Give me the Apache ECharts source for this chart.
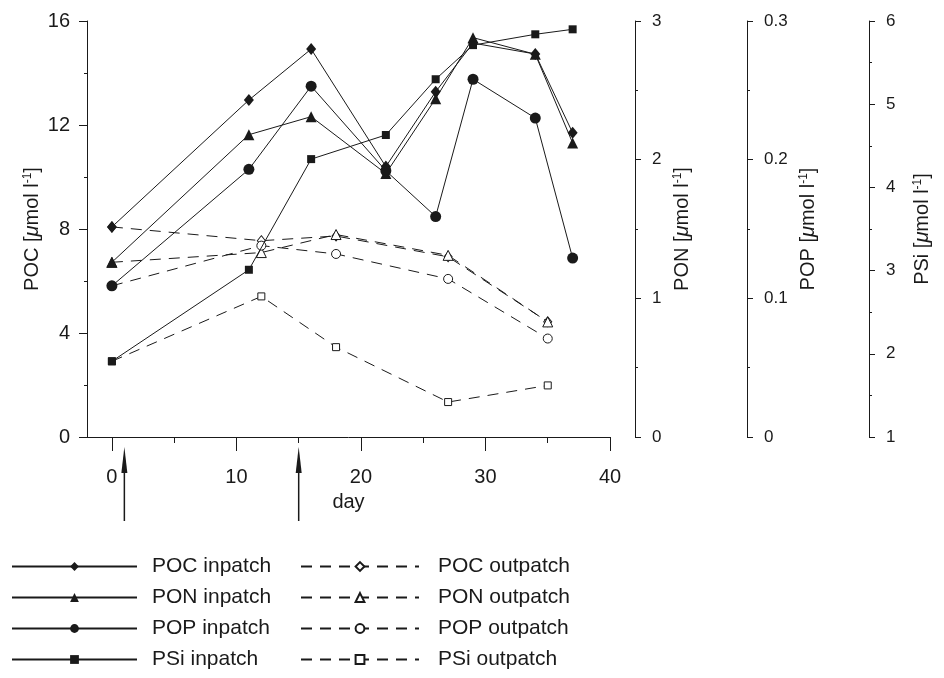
<!DOCTYPE html>
<html>
<head>
<meta charset="utf-8">
<script src="https://cdn.jsdelivr.net/npm/echarts@6/dist/echarts.min.js"></script>
<style>html,body{margin:0;padding:0;background:#fff}#c{width:944px;height:678px}</style>
</head>
<body>
<div id="c"></div>
<script>
// ---- data ----
const daysIn  = [0, 11, 16, 22, 26, 29, 34, 37];
const daysOut = [0, 12, 18, 27, 35];
const POC_in  = [8.08, 12.96, 14.92, 10.4, 13.28, 15.15, 14.73, 11.7];
const PON_in  = [1.26, 2.18, 2.31, 1.90, 2.44, 2.88, 2.76, 2.12];
const POP_in  = [0.109, 0.193, 0.253, 0.192, 0.159, 0.258, 0.230, 0.129];
const PSi_in  = [1.91, 3.01, 4.34, 4.63, 5.30, 5.71, 5.84, 5.90];
const POC_out = [8.08, 7.55, 7.73, 6.93, 4.43];
const PON_out = [1.26, 1.33, 1.46, 1.31, 0.83];
const POP_out = [0.109, 0.138, 0.132, 0.114, 0.071];
const PSi_out = [1.91, 2.69, 2.08, 1.42, 1.62];
const xMajorTicks = [0, 10, 20, 30, 40];
const xMinorTicks = [5, 15, 25, 35];
const arrowDays = [1, 15];
const inNames  = ['POC inpatch', 'PON inpatch', 'POP inpatch', 'PSi inpatch'];
const outNames = ['POC outpatch', 'PON outpatch', 'POP outpatch', 'PSi outpatch'];

const FONT = 'Liberation Sans';
const INK = '#1a1a1a';
const pair = (xs, ys) => xs.map((x, i) => [x, ys[i]]);

function nameRich(prefix) {
  return '{a|' + prefix + ' [}{i|μ}{a|mol l}{s|-1}{a|]}';
}
const richName = {
  a: {fontSize: 20, fontFamily: FONT, color: INK},
  i: {fontSize: 20, fontFamily: FONT, color: INK, fontStyle: 'italic'},
  s: {fontSize: 12, fontFamily: FONT, color: INK, verticalAlign: 'top', lineHeight: 20}
};

function yAx(opts) {
  return Object.assign({
    type: 'value',
    nameLocation: 'middle',
    nameRotate: 90,
    nameMoveOverlap: false,
    nameTextStyle: {rich: richName},
    splitLine: {show: false},
    axisLine: {show: true, onZero: false, lineStyle: {color: INK, width: 1}},
    axisTick: {show: true, length: 6, lineStyle: {color: INK}},
    minorTick: {show: true, splitNumber: 2, length: 3, lineStyle: {color: INK}},
    axisLabel: {color: INK, fontFamily: FONT, fontSize: 17, margin: 17}
  }, opts);
}

const inSym = ['diamond', 'triangle', 'circle', 'rect'];
const inSize = [[10, 12], 11, 11, 8];
const outSize = [[8, 10], 10, 9, 7];
const inData = [POC_in, PON_in, POP_in, PSi_in];
const outData = [POC_out, PON_out, POP_out, PSi_out];

const series = [];
for (let k = 0; k < 4; k++) {
  series.push({
    name: inNames[k], type: 'line', yAxisIndex: k,
    data: pair(daysIn, inData[k]),
    symbol: inSym[k], symbolSize: inSize[k],
    itemStyle: {color: INK},
    lineStyle: {color: INK, width: 1, type: 'solid'},
    z: 3
  });
}
for (let k = 0; k < 4; k++) {
  series.push({
    name: outNames[k], type: 'line', yAxisIndex: k,
    data: pair(daysOut, outData[k]),
    symbol: inSym[k], symbolSize: outSize[k],
    itemStyle: {color: '#fff', borderColor: INK, borderWidth: 1},
    lineStyle: {color: INK, width: 1, type: [11, 8]},
    z: 2
  });
}

const chart = echarts.init(document.getElementById('c'), null, {renderer: 'canvas'});
chart.setOption({
  animation: false,
  backgroundColor: '#fff',
  grid: {left: 87, right: 334, top: 21, bottom: 241, containLabel: false},
  xAxis: [{
    type: 'value', min: -2, max: 40,
    name: 'day', nameLocation: 'middle', nameGap: 55, nameMoveOverlap: false,
    nameTextStyle: {fontSize: 20, fontFamily: FONT, color: INK},
    splitLine: {show: false},
    axisLine: {show: true, onZero: false, lineStyle: {color: INK, width: 1}},
    axisTick: {show: true, length: 14, customValues: xMajorTicks, lineStyle: {color: INK}},
    axisLabel: {show: true, customValues: xMajorTicks, fontSize: 20, fontFamily: FONT, color: INK, margin: 30}
  }, {
    type: 'value', min: -2, max: 40, position: 'bottom',
    splitLine: {show: false},
    axisLine: {show: false, onZero: false},
    axisTick: {show: true, length: 6, customValues: xMinorTicks, lineStyle: {color: INK}},
    axisLabel: {show: false}
  }],
  yAxis: [
    yAx({position: 'left', min: 0, max: 16, interval: 4, name: nameRich('POC'), nameGap: 45,
         axisTick: {show: true, length: 8, lineStyle: {color: INK}},
         axisLabel: {color: INK, fontFamily: FONT, fontSize: 20, margin: 17}}),
    yAx({position: 'right', offset: 25, min: 0, max: 3, interval: 1, name: nameRich('PON'), nameGap: 37}),
    yAx({position: 'right', offset: 137, min: 0, max: 0.3, interval: 0.1, name: nameRich('POP'), nameGap: 51}),
    yAx({position: 'right', offset: 259, min: 1, max: 6, interval: 1, name: nameRich('PSi'), nameGap: 43})
  ],
  legend: [{
    data: inNames, orient: 'vertical', left: 11, top: 556, padding: 0, itemWidth: 125, itemHeight: 11, itemGap: 10,
    selectedMode: false,
    textStyle: {fontSize: 21, fontFamily: FONT, color: INK, padding: [0, 0, 0, 10]}
  }, {
    data: outNames, orient: 'vertical', left: 300, top: 556, padding: 0, itemWidth: 118, itemHeight: 11, itemGap: 10,
    selectedMode: false,
    textStyle: {fontSize: 21, fontFamily: FONT, color: INK, padding: [0, 0, 0, 14]}
  }],
  series: series
});

// arrows under the day axis marking events
const y0 = chart.convertToPixel({yAxisIndex: 0}, 0);
const arrows = [];
arrowDays.forEach(d => {
  const px = chart.convertToPixel({xAxisIndex: 0}, d);
  arrows.push({type: 'line', shape: {x1: px, y1: y0 + 30, x2: px, y2: y0 + 84}, style: {stroke: INK, lineWidth: 1.5}});
  arrows.push({type: 'polygon', shape: {points: [[px, y0 + 10], [px - 3, y0 + 36], [px + 3, y0 + 36]]}, style: {fill: INK}});
});
chart.setOption({graphic: arrows});
</script>
</body>
</html>
